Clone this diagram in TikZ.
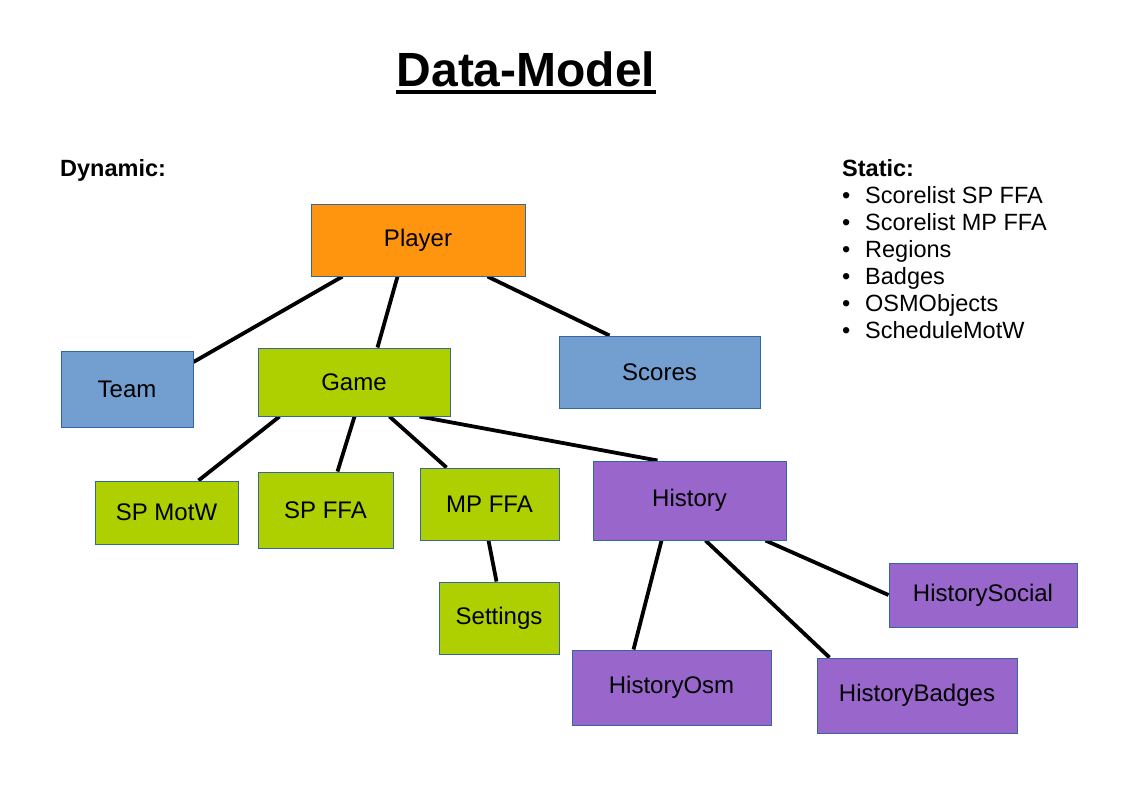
\documentclass[tikz,border=0pt]{standalone}
\usepackage{fontspec}
\setmainfont{Liberation Sans}
\usepackage{tikz}
\usetikzlibrary{
  calc,
  backgrounds
}
\definecolor{fillOrange}{RGB}{255, 149, 14}
\definecolor{fillBlue}{RGB}{114, 159, 207}
\definecolor{fillGreen}{RGB}{174, 207, 0}
\definecolor{fillPurple}{RGB}{153, 102, 204}
\definecolor{boxline}{RGB}{52, 101, 164}
\tikzset{
  % Entity boxes
  entity/.style     = {draw=boxline, line width=1pt, inner sep=0pt,
                       font=\fontsize{24}{28}\selectfont},
  entOrange/.style  = {entity, fill=fillOrange},
  entBlue/.style    = {entity, fill=fillBlue},
  entGreen/.style   = {entity, fill=fillGreen},
  entPurple/.style  = {entity, fill=fillPurple},
  % Connectors
  link/.style       = {line width=3.8pt, black},
  % Texts
  title/.style      = {font=\fontsize{48}{56}\selectfont\bfseries, anchor=base, inner sep=0pt},
  heading/.style    = {font=\fontsize{23.5}{27}\selectfont\bfseries, anchor=base west, inner sep=0pt},
  listitem/.style   = {font=\fontsize{23.5}{27}\selectfont, anchor=base west, inner sep=0pt},
}
\begin{document}
\begin{tikzpicture}[x=1pt, y=-1pt]
  \useasboundingbox (0,0) rectangle (1123,794);
  % Title
  \node[title] (title) at (526,87) {Data-Model};
  \draw[line width=3.5pt] ([yshift=-5pt]title.base west) -- ([yshift=-5pt]title.base east);
  % Headings
  \node[heading] (dynamic) at (60,177) {Dynamic:};
  \node[heading] (static) at (842,177) {Static:};
  \foreach \entry [count=\i from 0] in {Scorelist SP FFA, Scorelist MP FFA, Regions, Badges, OSMObjects, ScheduleMotW}
    \node[listitem] (static\i) at (842,{203.5+27*\i}) {\makebox[23pt][l]{\textbullet}\entry};
  % Entities
  \node[entOrange, minimum width=214pt, minimum height=71pt] (player)     at (418,240.5)   {Player};
  \node[entBlue,   minimum width=132pt, minimum height=76pt] (team)       at (127,389)     {Team};
  \node[entGreen,  minimum width=192pt, minimum height=68pt] (game)       at (354,382)     {Game};
  \node[entBlue,   minimum width=201pt, minimum height=72pt] (scores)     at (659.5,372)   {Scores};
  \node[entGreen,  minimum width=143pt, minimum height=63pt] (spmotw)     at (166.5,512.5) {SP MotW};
  \node[entGreen,  minimum width=135pt, minimum height=76pt] (spffa)      at (325.5,510)   {SP FFA};
  \node[entGreen,  minimum width=139pt, minimum height=72pt] (mpffa)      at (489.5,504)   {MP FFA};
  \node[entPurple, minimum width=193pt, minimum height=79pt] (history)    at (689.5,500.5) {History};
  \node[entGreen,  minimum width=120pt, minimum height=72pt] (settings)   at (499,618)     {Settings};
  \node[entPurple, minimum width=188pt, minimum height=64pt] (histsocial) at (983,595)     {HistorySocial};
  \node[entPurple, minimum width=199pt, minimum height=75pt] (histosm)    at (671.5,687.5) {HistoryOsm};
  \node[entPurple, minimum width=200pt, minimum height=75pt] (histbadges) at (917,695.5)   {HistoryBadges};
  % Connectors
  \begin{scope}[on background layer]
    \draw[link] ([xshift=32pt]player.south west)  -- ([yshift=27pt]team.east);
    \draw[link] ([xshift=87pt]player.south west)  -- ([xshift=120pt]game.north west);
    \draw[link] ([xshift=177pt]player.south west) -- ([xshift=51pt]scores.north west);
    \draw[link] ([xshift=22pt]game.south west)    -- ([xshift=104pt]spmotw.north west);
    \draw[link] ([xshift=97pt]game.south west)    -- ([xshift=80pt]spffa.north west);
    \draw[link] ([xshift=132pt]game.south west)   -- ([xshift=27pt]mpffa.north west);
    \draw[link] ([xshift=162pt]game.south west)   -- ([xshift=65pt]history.north west);
    \draw[link] ([xshift=69pt]mpffa.south west)   -- ([xshift=58pt]settings.north west);
    \draw[link] ([xshift=69pt]history.south west)  -- ([xshift=62pt]histosm.north west);
    \draw[link] ([xshift=113pt]history.south west) -- ([xshift=13pt]histbadges.north west);
    \draw[link] ([xshift=173pt]history.south west) -- (histsocial.west);
  \end{scope}
\end{tikzpicture}
\end{document}
